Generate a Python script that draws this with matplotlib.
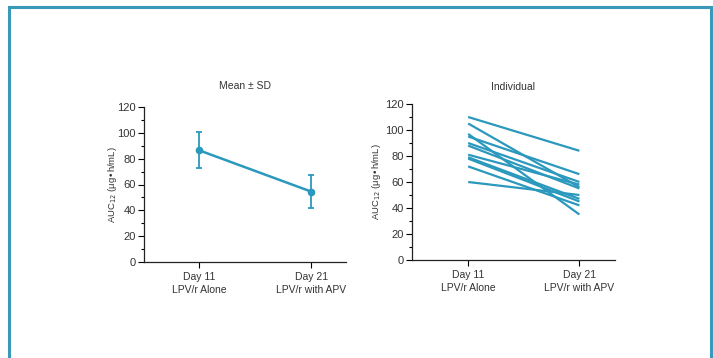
import matplotlib
matplotlib.use("Agg")
import matplotlib.pyplot as plt
from matplotlib.patches import Rectangle
from matplotlib.ticker import MultipleLocator
from matplotlib import font_manager

names = {f.name for f in font_manager.fontManager.ttflist}
fam = "Liberation Sans Narrow" if "Liberation Sans Narrow" in names else "Liberation Sans"
plt.rcParams['font.family'] = [fam, 'DejaVu Sans']

categories = ["Day 11\nLPV/r Alone", "Day 21\nLPV/r with APV"]
mean_vals = [86.5, 54.5]
sd_vals = [14.0, 12.5]
day11_indiv = [110, 105, 97, 95, 90, 88, 81, 79, 78, 72, 60]
day21_indiv = [84, 56, 35, 66, 60, 55, 58, 47, 45, 42, 50]

color = "#2b98bd"
text_c = "#333333"

fig = plt.figure(figsize=(7.13, 3.58), dpi=100)
fig.patch.set_facecolor("white")

# frame
fig.patches.append(Rectangle((9/713, -0.05), (711-9)/713, (358-7)/358 + 0.05,
                             transform=fig.transFigure, fill=False,
                             edgecolor="#3a98b9", linewidth=2.2, figure=fig))

ax1 = fig.add_axes([144/713, (358-262)/358, (346-144)/713, (262-107)/358])
ax2 = fig.add_axes([412/713, (358-260)/358, (615-412)/713, (260-104)/358])

x = [0, 1]
ax1.errorbar(x, mean_vals, yerr=sd_vals, color=color, lw=1.8, marker='o', ms=4.5,
             capsize=2, elinewidth=1.3, capthick=1.3)
for a, b in zip(day11_indiv, day21_indiv):
    ax2.plot(x, [a, b], color=color, lw=1.6, solid_capstyle='butt')

for ax, title, xl, tpad, lx in [(ax1, "Mean \u00b1 SD", (-0.49, 1.31), 13, -0.124),
                                (ax2, "Individual", (-0.505, 1.32), 10, -0.143)]:
    ax.set_xlim(*xl)
    ax.set_ylim(0, 120)
    ax.yaxis.set_major_locator(MultipleLocator(20))
    ax.yaxis.set_minor_locator(MultipleLocator(10))
    ax.set_xticks(x)
    ax.set_xticklabels(categories, fontsize=7.5, color=text_c, linespacing=1.35)
    ax.tick_params(axis='y', labelsize=8, labelcolor=text_c, length=4, width=0.8, pad=2)
    ax.tick_params(axis='y', which='minor', length=2.5, width=0.8)
    ax.tick_params(axis='x', length=4, width=0.8, pad=3)
    for s in ['top', 'right']:
        ax.spines[s].set_visible(False)
    for s in ['left', 'bottom']:
        ax.spines[s].set_linewidth(0.9)
        ax.spines[s].set_color("#222222")
    ax.set_title(title, fontsize=7.5, color=text_c, pad=tpad)
    ax.set_ylabel("AUC$_{12}$ (\u03bcg\u2022h/mL)", fontsize=6.8, color=text_c)
    ax.yaxis.set_label_coords(lx, 0.5)

fig.savefig("out.png", dpi=100)
